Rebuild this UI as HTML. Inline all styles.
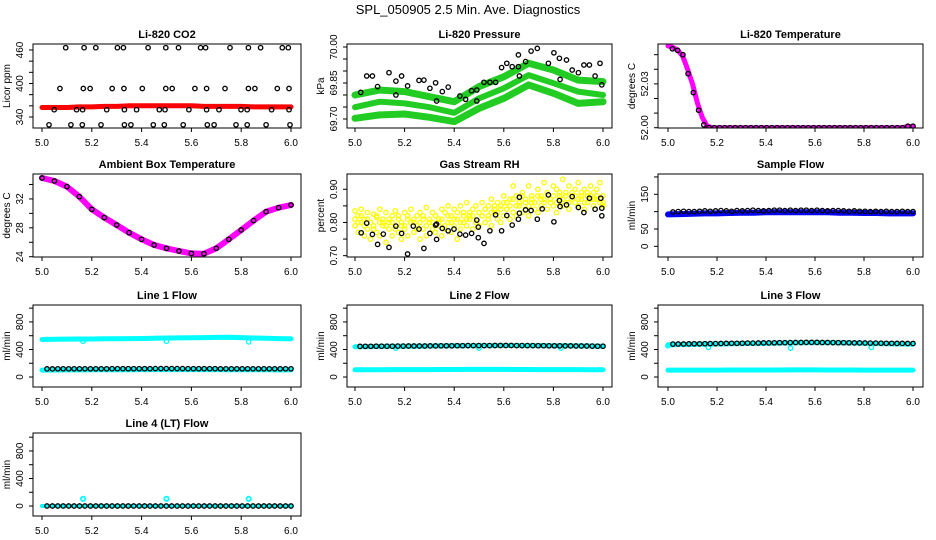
<!DOCTYPE html>
<html><head><meta charset="utf-8"><title>SPL_050905 Diagnostics</title>
<style>
html,body{margin:0;padding:0;background:#fff;}
svg{display:block;font-family:"Liberation Sans",Arial,sans-serif;}
</style></head>
<body>
<svg id="chart" width="936" height="540" viewBox="0 0 936 540" xmlns="http://www.w3.org/2000/svg">
<text x="468" y="14" text-anchor="middle" font-size="13">SPL_050905  2.5 Min. Ave. Diagnostics</text>
</svg>
<script>
// ---------- data ----------
const xTicks = [5.0, 5.2, 5.4, 5.6, 5.8, 6.0];
const xTickLabels = ["5.0", "5.2", "5.4", "5.6", "5.8", "6.0"];

// CO2
const co2Red = [357,357,357,358,358,359,359,360,360,360,360,360,360,359,359,359,359,358,358,358,358];
const co2BlackT = [5.095,5.169,5.216,5.303,5.327,5.426,5.497,5.548,5.637,5.657,5.755,5.829,5.878,5.965,5.989,
 5.072,5.166,5.193,5.282,5.329,5.403,5.497,5.523,5.614,5.661,5.735,5.829,5.855,5.945,5.992,
 5.049,5.139,5.163,5.260,5.331,5.380,5.471,5.494,5.590,5.661,5.711,5.799,5.824,5.922,5.992,
 5.028,5.116,5.162,5.237,5.331,5.357,5.447,5.491,5.567,5.664,5.691,5.779,5.824,5.900,5.996];
const co2BlackV = [464,464,464,464,464,464,464,464,464,464,464,464,464,464,464,
 391,391,391,391,391,391,391,391,391,391,391,391,391,391,391,
 353,353,353,353,353,353,353,353,353,353,353,353,353,353,353,
 326,326,326,326,326,326,326,326,326,326,326,326,326,326,326];

// Pressure
const presUpper = [69.800,69.821,69.814,69.793,69.772,69.835,69.876,69.932,69.904,69.862,69.856];
const presMid = [69.749,69.772,69.765,69.749,69.726,69.786,69.828,69.883,69.849,69.814,69.800];
const presLow = [69.703,69.717,69.721,69.707,69.689,69.744,69.786,69.842,69.807,69.765,69.772];
const presBlackT = [5.023,5.047,5.070,5.091,5.137,5.165,5.165,5.188,5.212,5.258,5.278,5.302,5.325,5.329,5.352,5.376,5.423,5.446,5.470,5.491,5.491,5.520,5.544,5.567,5.591,5.612,5.634,5.659,5.659,5.663,5.688,5.710,5.735,5.780,5.802,5.824,5.827,5.853,5.876,5.901,5.923,5.945,5.968,5.988,5.995];
const presBlackV = [69.811,69.879,69.879,69.835,69.893,69.858,69.800,69.879,69.838,69.861,69.862,69.828,69.851,69.775,69.814,69.833,69.796,69.782,69.818,69.821,69.775,69.853,69.853,69.853,69.914,69.932,69.918,69.918,69.967,69.879,69.939,69.983,69.994,69.932,69.976,69.953,69.865,69.946,69.904,69.893,69.925,69.925,69.879,69.932,69.842];

// Li-820 temperature
const tempMagT = [5.00,5.02,5.04,5.06,5.08,5.10,5.12,5.14,5.16,5.18,5.50,5.95,6.00];
const tempMag = [52.056,52.055,52.053,52.049,52.040,52.030,52.017,52.007,52.001,52.000,52.000,52.000,52.001];
const tempBlack = [52.054,52.053,52.050,52.037,52.024,52.012,52.002,52.000,52.000,52.000,52.000,52.000,52.000,52.000,52.000,52.000,52.000,52.000,52.000,52.000,52.000,52.000,52.000,52.000,52.000,52.000,52.000,52.000,52.000,52.000,52.000,52.000,52.000,52.000,52.000,52.000,52.000,52.000,52.000,52.000,52.000,52.000,52.000,52.000,52.000,52.001,52.001];

// Ambient box temperature
const ambMag = [34.9,34.48,33.7,32.31,30.56,29.41,28.39,27.32,26.41,25.62,25.16,24.79,24.46,24.42,25.16,26.41,27.70,29.0,30.23,30.79,31.16];

// Gas stream RH
const rhYellowA = [0.835,0.82,0.84,0.81,0.83,0.80,0.825,0.815,0.84,0.79,0.83,0.81,0.80,0.835,0.82,0.79,0.83,0.81,0.84,0.80,0.82,0.83,0.81,0.845,0.80,0.83,0.82,0.81,0.84,0.83,0.85,0.82,0.84,0.81,0.85,0.83,0.86,0.82,0.84,0.85,0.83,0.86,0.84,0.85,0.87,0.84,0.86,0.85,0.88,0.86,0.87,0.91,0.88,0.86,0.89,0.87,0.91,0.88,0.86,0.90,0.88,0.92,0.89,0.87,0.91,0.90,0.88,0.93,0.89,0.91,0.87,0.90,0.92,0.88,0.90,0.89,0.91,0.87,0.90,0.92,0.88];
const rhYellowB = [0.79,0.77,0.80,0.76,0.78,0.75,0.79,0.77,0.76,0.80,0.74,0.78,0.76,0.79,0.77,0.75,0.78,0.76,0.80,0.77,0.79,0.75,0.78,0.76,0.80,0.78,0.77,0.79,0.76,0.78,0.80,0.77,0.79,0.75,0.78,0.80,0.79,0.81,0.78,0.80,0.79,0.82,0.80,0.81,0.79,0.83,0.81,0.80,0.82,0.84,0.81,0.83,0.82,0.85,0.83,0.84,0.82,0.86,0.84,0.83,0.85,0.87,0.84,0.86,0.85,0.83,0.87,0.85,0.86,0.84,0.88,0.86,0.85,0.87,0.84,0.86,0.88,0.85,0.87,0.86,0.85];
const rhYellowC = [0.81,0.80,0.82,0.79,0.81,0.80,0.78,0.82,0.80,0.81,0.79,0.80,0.82,0.78,0.81,0.80,0.79,0.82,0.80,0.81,0.78,0.80,0.82,0.79,0.81,0.80,0.82,0.80,0.81,0.79,0.82,0.80,0.81,0.83,0.80,0.82,0.81,0.83,0.82,0.80,0.83,0.82,0.84,0.82,0.83,0.85,0.83,0.84,0.86,0.84,0.85,0.87,0.85,0.86,0.88,0.86,0.85,0.87,0.86,0.88,0.87,0.86,0.89,0.87,0.88,0.86,0.89,0.87,0.88,0.86,0.89,0.88,0.87,0.89,0.86,0.88,0.87,0.89,0.88,0.87,0.86];
const rhBlackT = [5.025,5.047,5.070,5.091,5.114,5.137,5.165,5.188,5.212,5.235,5.258,5.278,5.302,5.325,5.329,5.329,5.352,5.376,5.399,5.423,5.446,5.470,5.491,5.497,5.497,5.520,5.544,5.567,5.591,5.612,5.634,5.659,5.663,5.663,5.688,5.710,5.735,5.755,5.780,5.802,5.824,5.827,5.853,5.876,5.901,5.923,5.945,5.968,5.991,5.995,5.995];
const rhBlackV = [0.769,0.798,0.764,0.734,0.765,0.725,0.789,0.767,0.705,0.789,0.780,0.722,0.767,0.792,0.795,0.749,0.782,0.775,0.780,0.765,0.762,0.767,0.807,0.786,0.754,0.737,0.775,0.823,0.775,0.821,0.792,0.810,0.828,0.876,0.838,0.836,0.810,0.841,0.883,0.802,0.866,0.848,0.853,0.878,0.845,0.830,0.873,0.840,0.873,0.843,0.820];

// Sample flow
const sampleBlue = [92,93,94,95,95,96,97,97,98,98,98,98,98,98,97,97,96,96,95,95,95];
const sampleBlack = [99,100,101,100,100,101,102,101,102,103,102,101,103,102,103,104,103,102,103,104,104,103,104,103,104,104,103,104,103,102,103,103,102,101,102,101,101,100,101,100,101,100,100,101,100,100];

// Line flows
const line1Upper = [545,548,550,552,552,555,556,558,560,562,566,568,570,572,576,578,572,566,562,558,556];
const line1Lower = [100,102,103,104,105,105,106,106,107,107,108,108,108,107,107,106,106,105,105,104,104];
const line1Black = [118,118,119,119,119,120,120,120,120,120,120,120,121,121,121,121,121,121,121,121,122,122,122,122,122,122,121,121,121,121,121,121,120,120,120,120,120,120,120,120,120,120,119,119,119,119];
const line1DipT = [5.165,5.5,5.83];
const line1DipV = [520,520,510];

const line2Upper = [440,442,444,446,447,448,450,452,454,455,456,457,458,458,457,456,455,454,452,450,448];
const line2Lower = [105,106,106,107,107,108,108,109,109,110,110,110,110,109,109,108,108,107,107,106,106];
const line2Black = [445,446,446,447,447,448,448,449,449,450,450,451,451,452,452,453,454,454,455,455,456,456,457,457,457,458,458,458,458,457,457,456,456,455,455,454,454,453,452,452,451,450,450,449,448,448];
const line2DipT = [5.165,5.5,5.83];
const line2DipV = [420,420,420];

const line3Upper = [470,472,474,478,480,482,485,488,490,492,495,497,500,500,498,494,490,486,482,480,478];
const line3Lower = [100,100,101,101,101,102,102,102,102,102,103,103,103,102,102,102,101,101,101,100,100];
const line3Black = [478,479,480,481,482,483,484,485,486,487,488,489,490,491,492,493,494,495,496,497,498,499,500,501,502,503,503,503,502,501,500,499,498,497,496,495,494,493,492,491,490,489,488,488,487,487];
const line3DipT = [5.0,5.165,5.5,5.83];
const line3DipV = [455,430,420,430];

const line4Cyan = [0,0,0,0,0,0,0,0,0,0,0,0,0,0,0,0,0,0,0,0,0];
const line4Black = [0,0,0,0,0,0,0,0,0,0,0,0,0,0,0,0,0,0,0,0,0,0,0,0,0,0,0,0,0,0,0,0,0,0,0,0,0,0,0,0,0,0,0,0,0,0];
const line4DipT = [5.165,5.5,5.83];
const line4DipV = [105,105,105];

// ---------- layout ----------
const svg = document.getElementById('chart');
const NS = 'http://www.w3.org/2000/svg';
const COLS = [{l:33,r:301,x0:42,x1:291},{l:347,r:612,x0:355,x1:603},{l:658,r:923,x0:668,x1:913}];
const ROWS = [{t:44,b:128},{t:174,b:257},{t:305,b:387},{t:433,b:516}];
const BLK = '#000', RED = '#ff0000', GRN = '#22cc22', MAG = '#ff00ff', YEL = '#ffff00', BLU = '#0000ff', CYA = '#00ffff';

function el(tag, attrs, parent) {
  const e = document.createElementNS(NS, tag);
  for (const k in attrs) e.setAttribute(k, attrs[k]);
  (parent || svg).appendChild(e);
  return e;
}
function evenT(n, start) { const a = []; for (let i = 0; i < n; i++) a.push(start + (6 - start) * i / (n - 1)); return a; }

function makePanel(p) {
  const c = COLS[p.col], r = ROWS[p.row];
  const g = el('g', {});
  
  
  const xs = t => c.x0 + (t - 5) * (c.x1 - c.x0);
  const ys = v => r.b - (v - p.ylim[0]) / (p.ylim[1] - p.ylim[0]) * (r.b - r.t);
  const clip = 'clip-' + p.name;
  const cp = el('clipPath', {id: clip}, g);
  el('rect', {x: c.l, y: r.t, width: c.r - c.l, height: r.b - r.t}, cp);
  const plot = el('g', {'clip-path': 'url(#' + clip + ')'}, g);
  
  

  p.series.forEach(s => {
    const t = s.t || evenT(s.v.length, s.start === undefined ? 5.0 : s.start);
    if (s.band) {
      const pts = s.v.map((v, i) => xs(t[i]).toFixed(1) + ',' + ys(v).toFixed(1)).join(' ');
      const pl = el('polyline', {points: pts, fill: 'none', stroke: s.color, 'stroke-width': s.band, 'stroke-linejoin': 'round', 'stroke-linecap': 'round'}, plot);
      
      
    }
    if (s.points !== false) {
      const sg = el('g', {}, plot);
      
      
      s.v.forEach((v, i) => {
        const ci = el('circle', {cx: xs(t[i]).toFixed(1), cy: ys(v).toFixed(1), r: s.r || 2.2, fill: 'none', stroke: s.color, 'stroke-width': s.sw || 1.3}, sg);
        
        
      });
    }
  });

  const box = el('rect', {x: c.l, y: r.t, width: c.r - c.l, height: r.b - r.t, fill: 'none', stroke: '#000', 'stroke-width': 1}, g);
  
  

  const title = el('text', {x: (c.l + c.r) / 2, y: r.t - 6, 'text-anchor': 'middle', 'font-size': 11, 'font-weight': 'bold'}, g);
  title.textContent = p.title;
  
  

  const xa = el('g', {}, g);
  
  
  xTicks.forEach((tv, i) => {
    const x = xs(tv);
    el('line', {x1: x, x2: x, y1: r.b, y2: r.b + 4, stroke: '#000'}, xa);
    const tl = el('text', {x: x, y: r.b + 18, 'text-anchor': 'middle', 'font-size': 10}, xa);
    tl.textContent = xTickLabels[i];
    
    
  });

  const ya = el('g', {}, g);
  
  
  p.yTicks.forEach(tv => {
    const y = ys(tv);
    el('line', {x1: c.l - 4, x2: c.l, y1: y, y2: y, stroke: '#000'}, ya);
  });
  p.yLabels.forEach(lab => {
    const y = ys(parseFloat(lab));
    const x = c.l - 10;
    const tl = el('text', {x: x, y: y, 'text-anchor': 'middle', 'font-size': 10, transform: 'rotate(-90 ' + x + ' ' + y + ')'}, ya);
    tl.textContent = lab;
    
    
  });
  const yx = c.l - 23, yy = (r.t + r.b) / 2;
  const yt = el('text', {x: yx, y: yy, 'text-anchor': 'middle', 'font-size': 10, transform: 'rotate(-90 ' + yx + ' ' + yy + ')'}, ya);
  yt.textContent = p.ylab;
  
  
}

const flowTicks = [0, 200, 400, 600, 800, 1000];
const flowLabels = ['0', '400', '800'];

const panels = [
  {name: 'co2', title: 'Li-820 CO2', col: 0, row: 0, ylim: [320.3, 470.7], ylab: 'Licor ppm',
   yTicks: [340,360,380,400,420,440,460], yLabels: ['340','400','460'],
   series: [
     {name: 'co2-red', v: co2Red, color: RED, band: 5, points: false},
     {name: 'co2-black', t: co2BlackT, v: co2BlackV, color: BLK}]},
  {name: 'pressure', title: 'Li-820 Pressure', col: 1, row: 0, ylim: [69.6625, 70.0125], ylab: 'kPa',
   yTicks: [69.70,69.75,69.80,69.85,69.90,69.95,70.00], yLabels: ['69.70','69.85','70.00'],
   series: [
     {name: 'pressure-green-upper', v: presUpper, color: GRN, band: 7, points: false},
     {name: 'pressure-green-mid', v: presMid, color: GRN, band: 6, points: false},
     {name: 'pressure-green-low', v: presLow, color: GRN, band: 7, points: false},
     {name: 'pressure-black', t: presBlackT, v: presBlackV, color: BLK}]},
  {name: 'li820-temperature', title: 'Li-820 Temperature', col: 2, row: 0, ylim: [51.9998, 52.0573], ylab: 'degrees C',
   yTicks: [52.00,52.01,52.02,52.03,52.04,52.05], yLabels: ['52.00','52.03'],
   series: [
     {name: 'li820-temp-magenta', t: tempMagT, v: tempMag, color: MAG, band: 5, points: false},
     {name: 'li820-temp-black', v: tempBlack, start: 5.018, color: BLK}]},
  {name: 'ambient-temperature', title: 'Ambient Box Temperature', col: 0, row: 1, ylim: [23.96, 35.45], ylab: 'degrees C',
   yTicks: [24,26,28,30,32,34], yLabels: ['24','28','32'],
   series: [
     {name: 'ambient-magenta', v: ambMag, color: MAG, band: 6, points: false},
     {name: 'ambient-black', v: ambMag, color: BLK}]},
  {name: 'gas-stream-rh', title: 'Gas Stream RH', col: 1, row: 1, ylim: [0.696, 0.946], ylab: 'percent',
   yTicks: [0.70,0.75,0.80,0.85,0.90], yLabels: ['0.70','0.80','0.90'],
   series: [
     {name: 'rh-yellow-a', v: rhYellowA, color: YEL},
     {name: 'rh-yellow-b', v: rhYellowB, color: YEL},
     {name: 'rh-yellow-c', v: rhYellowC, color: YEL},
     {name: 'rh-black', t: rhBlackT, v: rhBlackV, color: BLK}]},
  {name: 'sample-flow', title: 'Sample Flow', col: 2, row: 1, ylim: [-30.8, 208.5], ylab: 'ml/min',
   yTicks: [0,50,100,150,200], yLabels: ['0','50','150'],
   series: [
     {name: 'sample-blue', v: sampleBlue, color: BLU, band: 6, points: false},
     {name: 'sample-black', v: sampleBlack, start: 5.02, color: BLK}]},
  {name: 'line1-flow', title: 'Line 1 Flow', col: 0, row: 2, ylim: [-145, 1046], ylab: 'ml/min',
   yTicks: flowTicks, yLabels: flowLabels,
   series: [
     {name: 'line1-cyan-upper', v: line1Upper, color: CYA, band: 5, points: false},
     {name: 'line1-cyan-lower', v: line1Lower, color: CYA, band: 5, points: false},
     {name: 'line1-cyan-dips', t: line1DipT, v: line1DipV, color: CYA},
     {name: 'line1-black', v: line1Black, start: 5.02, color: BLK}]},
  {name: 'line2-flow', title: 'Line 2 Flow', col: 1, row: 2, ylim: [-145, 1046], ylab: 'ml/min',
   yTicks: flowTicks, yLabels: flowLabels,
   series: [
     {name: 'line2-cyan-upper', v: line2Upper, color: CYA, band: 5, points: false},
     {name: 'line2-cyan-lower', v: line2Lower, color: CYA, band: 5, points: false},
     {name: 'line2-cyan-dips', t: line2DipT, v: line2DipV, color: CYA},
     {name: 'line2-black', v: line2Black, start: 5.02, color: BLK}]},
  {name: 'line3-flow', title: 'Line 3 Flow', col: 2, row: 2, ylim: [-145, 1046], ylab: 'ml/min',
   yTicks: flowTicks, yLabels: flowLabels,
   series: [
     {name: 'line3-cyan-upper', v: line3Upper, color: CYA, band: 5, points: false},
     {name: 'line3-cyan-lower', v: line3Lower, color: CYA, band: 5, points: false},
     {name: 'line3-cyan-dips', t: line3DipT, v: line3DipV, color: CYA},
     {name: 'line3-black', v: line3Black, start: 5.02, color: BLK}]},
  {name: 'line4-flow', title: 'Line 4 (LT) Flow', col: 0, row: 3, ylim: [-145, 1061], ylab: 'ml/min',
   yTicks: flowTicks, yLabels: flowLabels,
   series: [
     {name: 'line4-cyan', v: line4Cyan, color: CYA, band: 4, points: false},
     {name: 'line4-cyan-dips', t: line4DipT, v: line4DipV, color: CYA, sw: 1.8},
     {name: 'line4-black', v: line4Black, start: 5.02, color: BLK}]}
];
panels.forEach(makePanel);
</script>
</body></html>
